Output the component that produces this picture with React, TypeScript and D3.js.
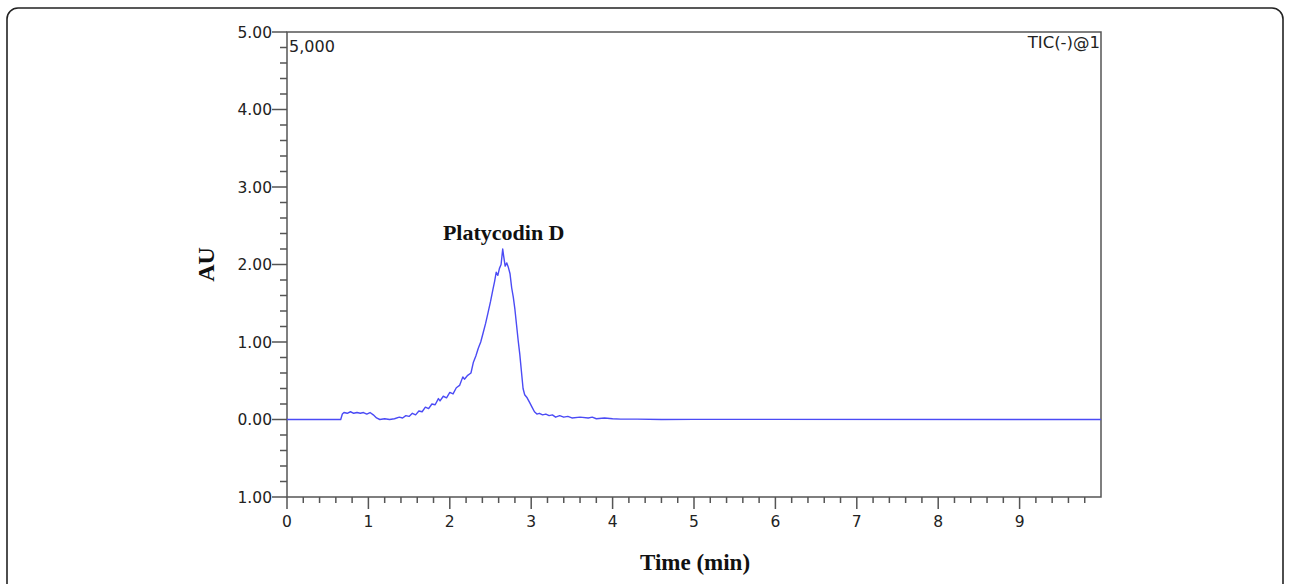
import React from "react";
import * as d3 from "d3";

// chromatogram trace (time in min, response in AU)
const times = [
  0, 0.66, 0.68, 0.7, 0.74, 0.78, 0.82, 0.86, 0.9, 0.94, 0.98, 1.02, 1.06, 1.1, 1.14, 1.2, 1.26, 1.32,
  1.38, 1.42, 1.46, 1.5, 1.54, 1.58, 1.62, 1.66, 1.7, 1.74, 1.78, 1.82, 1.86, 1.88, 1.92, 1.96, 2.0,
  2.04, 2.08, 2.12, 2.16, 2.18, 2.22, 2.26, 2.29, 2.32, 2.35, 2.38, 2.41, 2.44, 2.47, 2.5, 2.53, 2.55,
  2.57, 2.59, 2.61, 2.63, 2.65, 2.66, 2.68, 2.7, 2.72, 2.74, 2.76, 2.78, 2.8, 2.82, 2.84, 2.86, 2.88,
  2.9, 2.92, 2.95, 2.98, 3.01, 3.04, 3.07, 3.1, 3.14, 3.18, 3.22, 3.26, 3.3, 3.35, 3.4, 3.45, 3.5, 3.6,
  3.7, 3.75, 3.8, 3.9, 4.0, 4.1, 4.3, 4.6, 5.0, 10.0,
];
const au = [
  0, 0, 0.07, 0.09, 0.08, 0.1, 0.08, 0.09, 0.08, 0.09, 0.07, 0.09, 0.06, 0.02, 0.0, 0.01, 0.0, 0.01,
  0.03, 0.02, 0.05, 0.04, 0.08, 0.06, 0.11, 0.1, 0.16, 0.14, 0.2, 0.19, 0.27, 0.24, 0.3, 0.28, 0.35,
  0.33, 0.41, 0.44, 0.55, 0.52, 0.57, 0.6, 0.74, 0.82, 0.92, 1.0, 1.12, 1.24, 1.38, 1.52, 1.68, 1.78,
  1.9, 1.86, 1.95, 2.0, 2.2, 2.12, 1.98, 2.02, 1.96, 1.88, 1.7, 1.58, 1.42, 1.22, 1.02, 0.84, 0.62,
  0.4, 0.32, 0.28, 0.22, 0.16, 0.1, 0.07, 0.08, 0.06, 0.07, 0.05, 0.06, 0.03, 0.05, 0.03, 0.04, 0.02, 0.03,
  0.02, 0.03, 0.01, 0.02, 0.01, 0.005, 0.005, 0, 0.002, 0,
];

const yTickValues = [5, 4, 3, 2, 1, 0, -1];
const yTickLabels = ["5.00", "4.00", "3.00", "2.00", "1.00", "0.00", "1.00"];
const xTickValues = [0, 1, 2, 3, 4, 5, 6, 7, 8, 9];
const xTickLabels = ["0", "1", "2", "3", "4", "5", "6", "7", "8", "9"];

const W = 1289, H = 584;
const left = 287, right = 1101, top = 32, bottom = 497;
const axisColor = "#555";
const sans = "'DejaVu Sans', Verdana, sans-serif";
const serif = "'Liberation Serif', 'Times New Roman', serif";

export default function App() {
  const x = d3.scaleLinear().domain([0, 10]).range([left, right]);
  const y = d3.scaleLinear().domain([-1, 5]).range([bottom, top]);

  const line = d3.line<number>()
    .x((_, i) => x(times[i]))
    .y(d => y(d));

  const yMinor = d3.range(-1, 5.001, 0.2).filter(v => Math.abs(v - Math.round(v)) > 0.01);
  const xMinor = d3.range(0, 10.001, 0.2).filter(v => Math.abs(v - Math.round(v)) > 0.01);
  const peakI = au.indexOf(d3.max(au)!);

  return (
    <svg width={W} height={H} style={{ position: "absolute", left: 0, top: 0, background: "#fff" }}>
      <rect x={7} y={8} width={1276} height={620} rx={11} fill="none" stroke="#222" strokeWidth={1.6} />

      {/* plot frame */}
      <rect x={left} y={top} width={right - left} height={bottom - top} fill="none" stroke={axisColor} strokeWidth={1.5} />

      {/* y axis ticks */}
      {yTickValues.map((v, i) => (
        <g key={"y" + i}>
          <line x1={left - 15} x2={left} y1={y(v)} y2={y(v)} stroke={axisColor} strokeWidth={1.5} />
          <text x={left - 15} y={y(v)} dy="0.36em" textAnchor="end" fontFamily={sans} fontSize={15.5} fill="#222">
            {yTickLabels[i]}
          </text>
        </g>
      ))}
      {yMinor.map((v, i) => (
        <line key={"ym" + i} x1={left - 7} x2={left} y1={y(v)} y2={y(v)} stroke={axisColor} strokeWidth={1.5} />
      ))}

      {/* x axis ticks */}
      {xTickValues.map((v, i) => (
        <g key={"x" + i}>
          <line x1={x(v)} x2={x(v)} y1={bottom} y2={bottom + 12} stroke={axisColor} strokeWidth={1.5} />
          <text x={x(v)} y={bottom + 30} textAnchor="middle" fontFamily={sans} fontSize={15.5} fill="#222">
            {xTickLabels[i]}
          </text>
        </g>
      ))}
      {xMinor.map((v, i) => (
        <line key={"xm" + i} x1={x(v)} x2={x(v)} y1={bottom} y2={bottom + 6} stroke={axisColor} strokeWidth={1.5} />
      ))}

      {/* trace */}
      <path d={line(au) || ""} fill="none" stroke="#4b4bf5" strokeWidth={1.4} strokeLinejoin="round" />

      <text x={left + 2} y={top + 20} fontFamily={sans} fontSize={16} fill="#222">5,000</text>
      <text x={right - 1} y={top + 16} textAnchor="end" fontFamily={sans} fontSize={16.5} fill="#222">TIC(-)@1</text>

      <text x={x(times[peakI]) + 1} y={y(au[peakI]) - 9} textAnchor="middle" fontFamily={serif} fontWeight="bold" fontSize={22} fill="#111">
        Platycodin D
      </text>

      <text transform={`translate(214,${y(2)}) rotate(-90)`} textAnchor="middle" fontFamily={serif} fontWeight="bold" fontSize={24} fill="#111">
        AU
      </text>
      <text x={(left + right) / 2 + 1} y={570} textAnchor="middle" fontFamily={serif} fontWeight="bold" fontSize={23} fill="#111">
        Time (min)
      </text>
    </svg>
  );
}
